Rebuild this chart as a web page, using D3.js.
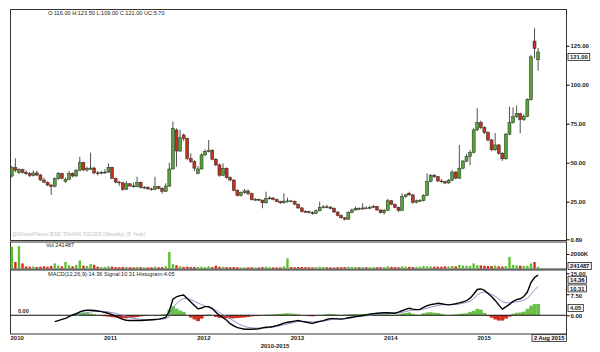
<!DOCTYPE html>
<html>
<head>
<meta charset="utf-8">
<script src="https://cdn.jsdelivr.net/npm/d3@7"></script>
<style>
  body { margin: 0; background: #fff; }
  text { font-family: "Liberation Sans", Arial, sans-serif; }
</style>
</head>
<body>
<div id="chart"></div>
<script>
// --------------------
// DATA (bi-weekly candles, 13 Dec 2009 .. 2 Aug 2015)
// --------------------
const firstDate = new Date(2009, 11, 13);

const opens = [41.5,47,43.6,45.5,43.8,43,41.8,43.4,42.1,38.9,37.5,35.7,34.8,39.8,43,37.8,39.3,43.2,41.5,45,50,45.4,45.8,46.6,43.5,43.2,43.8,44,47,40,37.6,37.1,33,36.5,35.1,34.7,37.4,34,34.3,33.2,32.9,34.6,33.6,31.6,35,46,71,57.5,67.8,65.6,52.6,50.8,43.2,46,55,57.2,58,52.2,48.6,42,46.4,40.4,38.9,32.3,29,30.8,31.9,30.2,26.3,26.5,26,24.3,27,27.4,26.4,25,24.3,25,25.5,25.3,23.4,21,18.7,18.6,18,17.6,19.2,21.4,21.7,21.5,20.8,18.4,16.2,14.7,13.8,18.2,19.7,20.7,20.3,21,20.8,21.4,21.9,19.7,18,19.5,25.6,23.4,21.3,19.4,28.2,30.4,29.4,24.6,25.6,25.8,29,38,41.9,41,38.3,37.8,37,38.8,44,40.1,46.5,51,54,56.6,71,75.7,72.5,69.3,64.6,58.3,61.4,56,52.5,68.3,75.7,79.5,81.4,77.6,79.8,90.4,128,116];
const highs = [48,52.8,46.5,46.2,45,44,45,44.8,42.8,40.4,38,36.5,40.5,44,43.6,40.5,44.8,43.8,46,53.8,50.6,47.5,56.4,47.4,44.6,44.8,45.8,49.6,47.4,40.5,38.4,37.6,38.2,37,37.2,41,38,35,34.8,34,41,35.2,34.2,36.8,50,76.3,72,71,68.6,66,56,51.6,47.8,56,58.6,64.5,58.6,53,49.4,49.6,47,41.2,39.4,33,31.6,33.2,32.8,30.8,27.4,27,26.4,31.4,28.4,27.8,27,25.6,30.4,27.6,26.2,25.8,23.8,21.6,19.6,19.2,18.8,20,25,22.8,23,22.2,21.4,18.8,16.8,15.2,18.8,20.6,21.8,21.4,24,22,22.4,23,22.4,20.2,20.4,26.8,26,23.8,21.8,30.4,30,31.4,29.8,26.4,26.6,29.8,43.2,42.8,42.8,41.6,39.4,38.4,39.6,45.4,44.6,61.3,51.8,55.6,58,72.4,84.9,77,73.4,70.2,65.2,69,62,56.8,69,85.9,85.5,86.6,82,81,91.3,119,136.2,123.5];
const lows = [40.5,44,42.8,43,42.2,40.8,41.2,41.5,38.4,37,35,29.3,34.2,39,39.4,37.2,38.8,40.6,41,44.6,44.6,44.2,45.4,42.6,41.8,42.6,42.8,43.4,39.5,36.8,35.2,32,32.4,34.6,34,34.2,33.6,33,32.6,32,32.4,33,30.2,31.2,34.6,45.6,47.4,56.8,64,51.6,49.8,44.6,42.6,45.6,54.4,56.6,51.6,47.8,41,41.4,39.8,38,31.8,28.4,28.4,30.2,29.2,25.8,25.6,25.4,20.8,23.8,26.4,25.8,24.6,23.6,23.8,24.4,24.6,22.8,20.4,18.2,18,17.4,16.6,17.2,18.8,20.6,20.8,20.2,17.8,15.6,14.2,13,13.4,17.6,19.2,19.6,19.8,20.2,20.2,21,19.2,17.4,16.8,19,22.8,20.8,18.6,19,27.6,28.8,23.8,24,24.8,25.2,28.6,37.4,40.2,37.6,37.2,36.2,36.6,38.2,39.4,39.6,45.8,50.4,48.5,56,70.4,71.6,68.4,63.6,57.4,57.6,55.2,51.2,52,67.8,75,78.8,68.8,76.8,79.2,89.8,117,109];
const closes = [46.8,45.2,45.5,43.8,43,41.8,43.4,42.1,38.9,37.5,35.7,34.8,39.8,43,40,39.3,43.2,41.5,45,50,45.4,46.4,46.6,43.5,43.2,43.8,44,47,40,37.6,37.1,33,36.5,35.1,34.7,37.4,34,34.3,33.2,32.9,34.6,33.6,31.6,35,46,72,57.5,66,65.6,52.6,50.8,46.5,46,55,57.2,58,52.2,48.6,42,46.4,40.4,38.9,32.3,29,30.8,31.9,30.2,26.3,26.5,26,24.3,27,27.4,26.4,25,24.3,25.4,25.5,25.3,23.4,21,18.7,18.6,18,17.6,19.2,21.4,21.7,21.5,20.8,18.4,16.2,14.7,13.8,18.2,19.7,20.7,20.3,21,20.8,21.4,21.9,19.7,18,19.5,25.6,23.4,21.3,19.4,28.2,29.4,29.4,24.6,25.6,25.8,29,38,41.9,41,38.3,37.8,37,38.8,44,40.1,46.5,51,54,56.6,71,75.7,72.5,69.3,64.6,58.3,61.4,56,52.5,68.3,75.7,79.5,81.4,77.6,79.8,90.4,117.9,123.2,121];

// volume in thousands of shares
const volumes = [3000,900,3100,700,300,250,280,220,250,300,260,350,700,400,300,900,450,300,500,1100,400,350,600,500,250,200,220,300,250,200,180,220,200,180,170,220,180,160,150,170,260,180,200,300,2300,600,450,300,220,250,200,220,200,250,200,300,200,400,250,220,200,180,200,180,160,170,160,180,150,150,200,250,180,160,150,150,300,1400,200,180,200,220,180,170,160,200,250,200,180,170,160,180,190,200,250,220,200,180,200,170,180,200,190,180,200,300,220,200,180,300,250,230,200,220,230,350,300,280,260,250,260,300,280,350,300,500,400,380,360,700,450,420,380,350,350,400,300,280,350,1600,500,420,400,350,380,700,900,241.487];

const macdLine = [null,null,null,null,null,null,null,null,null,null,null,null,
  -2.3,-1.9,-1.5,-1.1,-0.5,0.1,0.6,1.2,1.6,1.8,1.8,1.7,1.5,1.3,1.0,0.7,
  0.2,-0.3,-0.9,-1.5,-1.8,-1.9,-1.9,-1.9,-1.9,-1.8,-1.7,-1.6,-1.5,-1.4,-1.1,-0.8,
  1.5,5.7,6.6,7.0,7.25,6.0,4.7,3.5,2.3,2.6,3.1,3.1,2.4,1.1,-0.1,-0.9,
  -1.8,-3.0,-3.8,-4.4,-4.7,-5.0,-5.0,-5.0,-4.9,-4.8,-4.5,-4.3,-4.2,-4.0,-3.7,-3.3,
  -2.8,-2.5,-2.3,-2.1,-1.9,-2.2,-2.4,-2.7,-2.9,-2.5,-2.2,-1.9,-1.5,-1.2,-1.2,-1.3,
  -1.4,-1.2,-0.9,-0.7,-0.5,-0.3,-0.1,0.15,0.4,0.6,0.7,0.8,0.9,0.9,0.8,0.7,
  1.1,1.6,2.1,2.5,2.2,2.0,2.1,2.8,3.4,3.8,4.0,4.3,4.1,3.9,3.7,3.9,
  4.1,4.4,4.8,5.2,6.1,7.5,9.2,9.4,8.9,7.8,6.7,5.3,3.7,2.2,3.0,3.9,
  5.0,5.6,5.9,6.7,8.3,11.7,13.5,14.36];

const signalLine = [null,null,null,null,null,null,null,null,null,null,null,null,null,null,null,null,null,null,
  -0.2,0.2,0.6,0.9,1.2,1.35,1.45,1.45,1.35,1.2,0.95,0.7,0.35,0.0,-0.4,-0.8,
  -1.1,-1.3,-1.5,-1.6,-1.65,-1.65,-1.6,-1.5,-1.4,-1.2,-0.6,2.5,4.2,5.3,6.0,6.0,
  5.5,5.0,4.4,3.8,3.3,2.8,2.3,1.8,1.0,0.2,-0.5,-1.2,-2.0,-2.8,-3.5,-4.0,
  -4.3,-4.5,-4.6,-4.6,-4.6,-4.5,-4.4,-4.2,-4.0,-3.7,-3.4,-3.1,-2.8,-2.5,-2.2,-2.1,
  -2.2,-2.3,-2.4,-2.4,-2.3,-2.1,-1.9,-1.6,-1.4,-1.3,-1.3,-1.2,-1.1,-0.9,-0.7,-0.5,
  -0.35,-0.2,0.0,0.2,0.35,0.5,0.6,0.7,0.75,0.75,0.85,1.05,1.3,1.6,1.8,1.9,
  1.95,2.2,2.5,2.9,3.2,3.5,3.7,3.8,3.8,3.8,3.9,4.0,4.3,4.6,5.0,6.0,
  7.2,8.0,8.3,8.1,7.5,6.8,5.8,4.9,4.5,4.4,4.6,4.8,5.0,5.4,6.0,7.5,
  9.0,10.31];

const histogram = [null,null,null,null,null,null,null,null,null,null,null,null,null,null,null,null,null,null,
  0.8,1.0,1.0,0.9,0.6,0.35,0.05,-0.15,-0.35,-0.5,-0.7,-0.8,-1.0,-1.1,-1.1,-0.9,
  -0.8,-0.6,-0.4,-0.2,-0.05,0.05,0.1,0.1,0.3,0.4,2.1,3.2,2.4,1.7,1.25,0.0,
  -0.8,-1.5,-2.1,-1.2,-0.2,0.3,0.1,-0.6,-0.9,-1.0,-1.1,-1.1,-1.1,-1.0,-0.9,-0.8,
  -0.6,-0.4,-0.3,-0.2,0.1,0.2,0.25,0.3,0.4,0.5,0.6,0.7,0.6,0.5,0.3,0.0,
  -0.1,-0.3,-0.4,-0.1,0.1,0.2,0.4,0.5,0.4,0.2,0.1,0.2,0.3,0.4,0.4,0.4,
  0.45,0.5,0.5,0.5,0.4,0.3,0.3,0.3,0.15,0.0,0.3,0.6,0.8,1.0,0.5,0.2,
  0.2,0.7,1.0,1.1,0.9,0.8,0.5,0.2,0.0,0.2,0.3,0.5,0.6,0.7,1.2,1.6,
  2.3,2.0,0.8,-0.3,-0.9,-1.5,-1.9,-1.9,-1.2,-0.5,0.5,0.9,1.0,1.3,2.3,3.4,
  4.0,4.05];

const priceTicks = [0.89, 25, 50, 75, 100, 125];
const volTicks = [2000];
const macdTicks = [0, 7.5, 15];
const yearTicks = [2010, 2011, 2012, 2013, 2014, 2015];

const headerText = "O:116.00 H:123.50 L:109.00 C:121.00 UC:5.70";
const watermark = "@SharePlanet BSE:TAHAN 532209 [Weekly] (5 Year)";
const lastDateText = "2 Aug 2015";

const dates = closes.map((d, i) => d3.timeDay.offset(firstDate, i * 14));


// --------------------
// LAYOUT
// --------------------
const width = 600, height = 352;
const left = 10.5, right = 566.5;
const pricePanel = { top: 9.5, bottom: 240.5 };
const volPanel = { top: 242, bottom: 269 };
const macdPanel = { top: 270, bottom: 334 };

const green = "#55a236", red = "#c0321f";
const labelFont = "6px";

const svg = d3.select("#chart")
  .append("svg")
  .attr("width", width)
  .attr("height", height);

const x = d3.scaleTime()
  .domain([new Date(2009, 11, 8), new Date(2015, 10, 21)])
  .range([left, right]);

const yPrice = d3.scaleLinear()
  .domain([0, 148.1])
  .range([240.7, 9.7]);

const yVol = d3.scaleLinear()
  .domain([0, 3800])
  .range([268.5, 241]);

const yMacd = d3.scaleLinear()
  .domain([-6.7, 16.1])
  .range([334, 270.2]);


// panel frames
[pricePanel, volPanel, macdPanel].forEach(p => {
  svg.append("rect")
    .attr("x", left).attr("y", p.top)
    .attr("width", right - left).attr("height", p.bottom - p.top)
    .attr("fill", "none")
    .attr("stroke", "#333")
    .attr("stroke-width", 1);
});


// --------------------
// CANDLES
// --------------------
const candles = svg.append("g");
closes.forEach((c, i) => {
  const cx = x(dates[i]);
  const o = opens[i];
  candles.append("line")
    .attr("x1", cx).attr("x2", cx)
    .attr("y1", yPrice(highs[i])).attr("y2", yPrice(lows[i]))
    .attr("stroke", "#222").attr("stroke-width", 0.8);
  const top = yPrice(Math.max(o, c));
  const h = Math.max(0.8, Math.abs(yPrice(o) - yPrice(c)));
  candles.append("rect")
    .attr("x", cx - 1.5).attr("y", top)
    .attr("width", 3).attr("height", h)
    .attr("fill", c >= o ? green : red)
    .attr("stroke", "#2a2a2a").attr("stroke-width", 0.5);
});

// price axis
const priceAxis = svg.append("g")
  .attr("transform", `translate(${right},0)`)
  .call(d3.axisRight(yPrice)
    .tickValues(priceTicks)
    .tickSize(3)
    .tickPadding(1)
    .tickFormat(d3.format(".2f")));
priceAxis.select(".domain").remove();
priceAxis.selectAll("text")
  .style("font-size", labelFont).style("font-weight", "bold").attr("fill", "#222");


// --------------------
// VOLUME
// --------------------
svg.append("g")
  .selectAll("rect")
  .data(volumes)
  .join("rect")
  .attr("x", (d, i) => x(dates[i]) - 1.2)
  .attr("y", d => yVol(d))
  .attr("width", 2.4)
  .attr("height", d => Math.max(1.2, yVol(0) - yVol(d)))
  .attr("fill", (d, i) => closes[i] >= opens[i] ? "#5cc02e" : "#d42a1a");

const volAxis = svg.append("g")
  .attr("transform", `translate(${right},0)`)
  .call(d3.axisRight(yVol)
    .tickValues(volTicks)
    .tickSize(3)
    .tickPadding(1)
    .tickFormat(d => d + "K"));
volAxis.select(".domain").remove();
volAxis.selectAll("text")
  .style("font-size", labelFont).style("font-weight", "bold").attr("fill", "#222");


// --------------------
// MACD
// --------------------
const stepW = x(dates[1]) - x(dates[0]);
svg.append("g")
  .selectAll("rect")
  .data(histogram.map((v, i) => ({ v, i })).filter(d => d.v !== null))
  .join("rect")
  .attr("x", d => x(dates[d.i]) - stepW / 2)
  .attr("y", d => yMacd(Math.max(0, d.v)))
  .attr("width", stepW + 0.2)
  .attr("height", d => Math.abs(yMacd(d.v) - yMacd(0)))
  .attr("fill", d => d.v >= 0 ? "#6cc04a" : "#d42a1a");

svg.append("line")
  .attr("x1", left).attr("x2", right)
  .attr("y1", yMacd(0)).attr("y2", yMacd(0))
  .attr("stroke", "#111").attr("stroke-width", 1);

const macdPath = d3.line()
  .defined(d => d !== null)
  .x((d, i) => x(dates[i]))
  .y(d => yMacd(d));

svg.append("path")
  .datum(signalLine)
  .attr("fill", "none")
  .attr("stroke", "#7a86c8")
  .attr("stroke-width", 0.9)
  .attr("d", macdPath);

svg.append("path")
  .datum(macdLine)
  .attr("fill", "none")
  .attr("stroke", "#000")
  .attr("stroke-width", 1.4)
  .attr("d", macdPath);

const macdAxis = svg.append("g")
  .attr("transform", `translate(${right},0)`)
  .call(d3.axisRight(yMacd)
    .tickValues(macdTicks)
    .tickSize(3)
    .tickPadding(1)
    .tickFormat(d3.format(".2f")));
macdAxis.select(".domain").remove();
macdAxis.selectAll("text")
  .style("font-size", labelFont).style("font-weight", "bold").attr("fill", "#222");
// 7.50 label sits just under the signal box
macdAxis.selectAll("text").filter(d => d === 7.5).attr("dy", "0.6em");

svg.append("text")
  .attr("x", 18).attr("y", yMacd(0) - 2)
  .text("0.00")
  .style("font-size", "5.5px").style("font-weight", "bold").attr("fill", "#222");


// --------------------
// X AXIS
// --------------------
const xAxis = svg.append("g")
  .attr("transform", `translate(0,${macdPanel.bottom})`)
  .call(d3.axisBottom(x)
    .tickValues(yearTicks.map(y => new Date(y, 0, 1)))
    .tickSize(0)
    .tickPadding(2)
    .tickFormat(d3.timeFormat("%Y")));
xAxis.select(".domain").remove();
xAxis.selectAll("text")
  .style("font-size", labelFont).style("font-weight", "bold").attr("fill", "#222");

svg.append("text")
  .attr("x", 275).attr("y", 348)
  .attr("text-anchor", "middle")
  .text("2010-2015")
  .style("font-size", labelFont).style("font-weight", "bold").attr("fill", "#222");


// --------------------
// TEXTS & VALUE BOXES
// --------------------
svg.append("text")
  .attr("x", 48).attr("y", 14.5)
  .text(headerText)
  .style("font-size", "5.6px").attr("fill", "#222");

svg.append("text")
  .attr("x", 12).attr("y", 236)
  .text(watermark)
  .style("font-size", "5.6px").attr("fill", "#c4c4c4");

svg.append("text")
  .attr("x", 46).attr("y", 247)
  .text("Vol " + Math.round(volumes[volumes.length - 1] * 1000))
  .style("font-size", "5.6px").attr("fill", "#222");

const last = macdLine.length - 1;
svg.append("text")
  .attr("x", 48).attr("y", 276)
  .text(`MACD(12,26,9):${macdLine[last].toFixed(2)} Signal:${signalLine[last].toFixed(2)} Histogram:${histogram[last].toFixed(2)}`)
  .style("font-size", "5.6px").attr("fill", "#222");

// value boxes on the right edge
function valueBox(bx, yTop, label, fill) {
  const g = svg.append("g");
  const t = g.append("text")
    .attr("x", bx + 2).attr("y", yTop + 5.6)
    .text(label)
    .style("font-size", "5.8px").style("font-weight", "bold").attr("fill", "#111");
  const w = t.node().getComputedTextLength() + 4;
  g.insert("rect", "text")
    .attr("x", bx).attr("y", yTop)
    .attr("width", w).attr("height", 7)
    .attr("fill", fill).attr("stroke", "#222").attr("stroke-width", 0.8);
}

valueBox(568, yPrice(closes[closes.length - 1]) + 1.5, closes[closes.length - 1].toFixed(2), "#fff");
valueBox(568, 262.5, String(Math.round(volumes[volumes.length - 1] * 1000)), "#fbeef3");
valueBox(568, yMacd(macdLine[last]) + 1.2, macdLine[last].toFixed(2), "#fbeef3");
valueBox(568, yMacd(signalLine[last]) - 1.5, signalLine[last].toFixed(2), "#fff");
valueBox(568, yMacd(histogram[last]) + 0.5, histogram[last].toFixed(2), "#fff");
valueBox(532, 334.5, lastDateText, "#fbeef3");
</script>
</body>
</html>
